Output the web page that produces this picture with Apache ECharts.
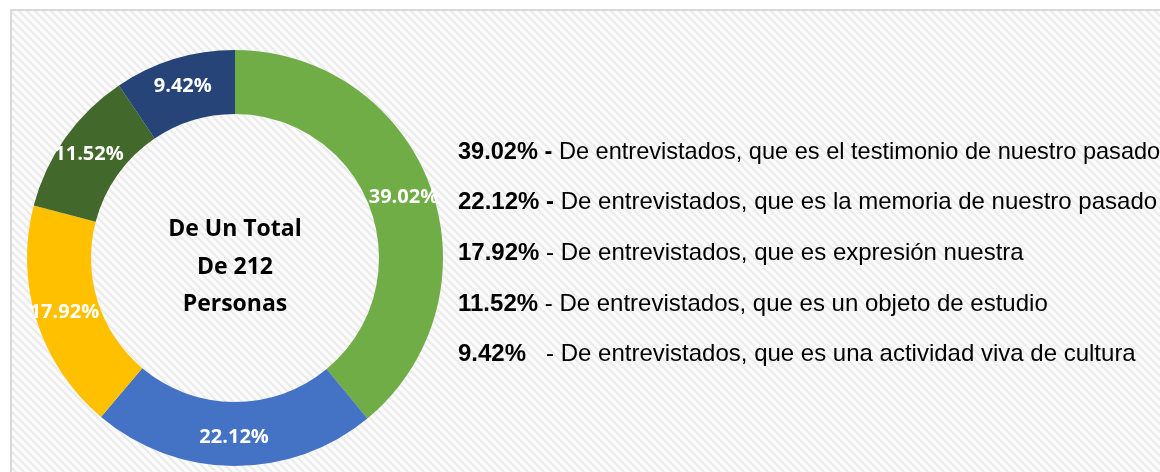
<!DOCTYPE html>
<html><head><meta charset="utf-8">
<script src="https://cdn.jsdelivr.net/npm/echarts@6/dist/echarts.min.js"></script>
<style>html,body{margin:0;padding:0;background:#fff}#c{width:1160px;height:472px}</style>
</head><body><div id="c"></div>
<script>
const categories = ['que es el testimonio de nuestro pasado','que es la memoria de nuestro pasado','que es expresión nuestra','que es un objeto de estudio','que es una actividad viva de cultura'];
const values = [39.02, 22.12, 17.92, 11.52, 9.42];
const valueLabels = ['39.02%','22.12%','17.92%','11.52%','9.42%'];
const colors = ['#70AD47','#4472C4','#FFC000','#43682B','#264478'];
const centerText = 'De Un Total\nDe 212\nPersonas';

// hatch pattern
const pc = document.createElement('canvas');
pc.width = 8; pc.height = 8;
const g = pc.getContext('2d');
g.fillStyle = '#fbfbfb'; g.fillRect(0,0,8,8);
g.strokeStyle = '#ebebeb'; g.lineWidth = 2.2;
g.beginPath();
g.moveTo(-2,-2); g.lineTo(10,10);
g.moveTo(-6,2); g.lineTo(6,14);
g.moveTo(2,-6); g.lineTo(14,6);
g.stroke();

const chart = echarts.init(document.getElementById('c'));
const FONT = '"Liberation Sans", Arial, sans-serif';
const legendLines = values.map((v,i)=>{
  const boldDash = i < 2;
  const label = valueLabels[i];
  const sep = i === 4 ? '   - ' : ' - ';
  const txt = boldDash
    ? '{b|' + label + ' -} De entrevistados, ' + categories[i]
    : '{b|' + label + '}' + sep + 'De entrevistados, ' + categories[i];
  return {
    type: 'text', x: 458, y: 152 + i * 50.7,
    scaleX: i === 0 ? 0.982 : 1,
    style: {
      text: txt, fill: '#000', fontSize: 24, fontFamily: FONT, verticalAlign: 'middle',
      rich: { b: { fontWeight: 'bold', fontSize: 24, fontFamily: FONT, fill: '#000' } }
    }
  };
});

chart.setOption({
  animation: false,
  graphic: [
    { type: 'rect', shape: { x: 11, y: 10, width: 1160, height: 480 },
      style: { fill: { image: pc, repeat: 'repeat' }, stroke: '#d9d9d9', lineWidth: 2 }, z: -10 },
    { type: 'text', x: 235, y: 267, style: { text: centerText, fill: '#000', align: 'center', verticalAlign: 'middle',
      font: 'bold 23px "Open Sans", sans-serif', lineHeight: 37.5 } }
  ].concat(legendLines),
  series: [{
    type: 'pie', center: [235, 258], radius: [144, 208], startAngle: 90, clockwise: true,
    silent: true,
    data: values.map((v,i)=>({ value: v, name: valueLabels[i], itemStyle: { color: colors[i] } })),
    label: { show: true, position: 'inside', formatter: p => valueLabels[p.dataIndex], color: '#fff',
      fontWeight: 'bold', fontSize: 20, fontFamily: '"Open Sans", sans-serif' },
    labelLine: { show: false },
    itemStyle: { borderWidth: 0 }
  }]
});
</script></body></html>
